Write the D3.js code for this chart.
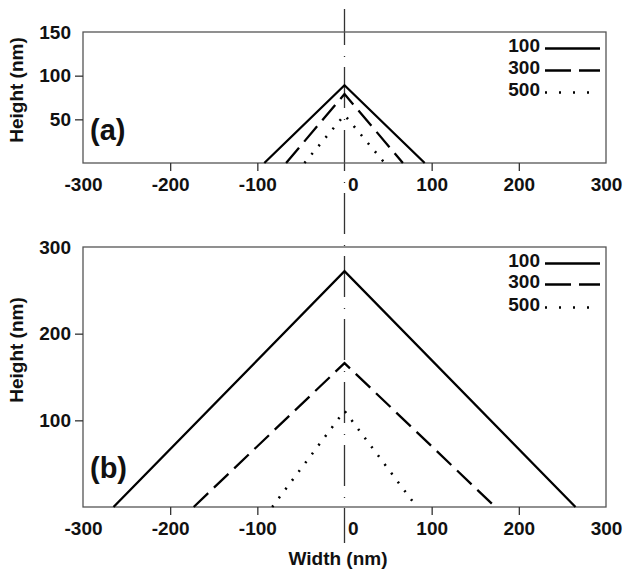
<!DOCTYPE html>
<html>
<head>
<meta charset="utf-8">
<script src="https://d3js.org/d3.v7.min.js"></script>
<style>
body { margin: 0; background: #fff; }
text { font-family: Arial, "Liberation Sans", sans-serif; font-weight: bold; fill: #111; }
</style>
</head>
<body>
<div id="fig"></div>
<script>
//
// Triangular height profiles, two panels
//

var series_names = ["100", "300", "500"];
var x_ticks = [-300, -200, -100, 0, 100, 200, 300];
var y_ticks_a = [50, 100, 150];
var y_ticks_b = [100, 200, 300];

// half base width and apex height of each profile (nm)
var half_width_a = [92, 67, 46];
var apex_height_a = [89, 79, 55];
var half_width_b = [265, 173, 83];
var apex_height_b = [272, 166, 111];

var line_dash = ["none", "20,8", "2,9"];
var legend_dash = ["none", "26,8", "2,12"];

var total_width = 623, total_height = 572;
var left = 83, right = 606;
var tick_font = 19;

var svg = d3.select("#fig").append("svg")
		.attr("width", total_width)
		.attr("height", total_height);

var x_scale = d3.scaleLinear()
	.domain([-300, 300])
	.range([left, right]);

// plain hyphen for negatives, like the original figure
var fmt = function(d) { return String(d); };

function profile(half_width, apex) {
	return [{x: -half_width, y: 0}, {x: 0, y: apex}, {x: half_width, y: 0}];
}

// dash-dot centre line through both panels
svg.append("line")
		.attr("x1", x_scale(0)).attr("x2", x_scale(0))
		.attr("y1", 9).attr("y2", 543)
		.attr("stroke", "#333")
		.attr("stroke-width", 1.3)
		.attr("stroke-dasharray", "41,11,1,10")
		.attr("stroke-dashoffset", 5);

function ProfilePanel(opts) {
	var y_scale = d3.scaleLinear()
		.domain([0, opts.y_max])
		.range([opts.bottom, opts.top]);

	var g = svg.append("g");

	// frame
	g.append("rect")
			.attr("x", left)
			.attr("y", opts.top)
			.attr("width", right - left)
			.attr("height", opts.bottom - opts.top)
			.attr("fill", "none")
			.attr("stroke", "#555")
			.attr("stroke-width", 1.3);

	// X axis
	var xa = g.append("g")
			.attr("transform", "translate(0," + opts.bottom + ")")
			.call(d3.axisBottom(x_scale).tickValues(x_ticks).tickFormat(fmt)
				.tickSize(8).tickSizeOuter(0).tickPadding(7));
	xa.select(".domain").remove();
	xa.selectAll(".tick line")
			.attr("stroke", "#333")
			.attr("stroke-width", 1.3)
			.attr("display", function(d) { return (d == 0 || Math.abs(d) == 300) ? "none" : null; });
	xa.selectAll(".tick text")
			.attr("font-size", tick_font)
			.attr("fill", "#111");
	xa.selectAll(".tick").filter(function(d) { return d == 0; }).select("text")
			.attr("text-anchor", "start")
			.attr("x", 3);

	// Y axis
	var ya = g.append("g")
			.attr("transform", "translate(" + left + ",0)")
			.call(d3.axisLeft(y_scale).tickValues(opts.y_ticks).tickFormat(fmt)
				.tickSize(8).tickSizeOuter(0).tickPadding(4));
	ya.select(".domain").remove();
	ya.selectAll(".tick line")
			.attr("stroke", "#333")
			.attr("stroke-width", 1.3)
			.attr("display", function(d) { return d == opts.y_max ? "none" : null; });
	ya.selectAll(".tick text")
			.attr("font-size", tick_font)
			.attr("fill", "#111");

	g.append("text")
			.attr("transform", "translate(23," + opts.label_y + ") rotate(-90)")
			.attr("text-anchor", "middle")
			.attr("font-size", 19)
			.text("Height (nm)");

	g.append("text")
			.attr("x", 90)
			.attr("y", opts.tag_y)
			.attr("font-size", 29)
			.text(opts.tag);

	// profiles
	for(var i = 0; i < series_names.length; i += 1) {
		g.append("path")
				.datum(profile(opts.half_width[i], opts.apex[i]))
				.attr("fill", "none")
				.attr("stroke", "#000")
				.attr("stroke-width", i == 2 ? 2.5 : 2.3)
				.attr("stroke-dasharray", line_dash[i])
				.attr("d", d3.line()
					.x(function(d) { return x_scale(d.x); })
					.y(function(d) { return y_scale(d.y); })
				);
	}

	// legend
	for(var i = 0; i < series_names.length; i += 1) {
		var ly = opts.legend_y[i];
		g.append("text")
				.attr("x", 540)
				.attr("y", ly)
				.attr("text-anchor", "end")
				.attr("font-size", tick_font)
				.text(series_names[i]);
		g.append("line")
				.attr("x1", 545).attr("x2", 600)
				.attr("y1", ly - 3.5).attr("y2", ly - 3.5)
				.attr("stroke", "#000")
				.attr("stroke-width", i == 2 ? 2.5 : 2.3)
				.attr("stroke-dasharray", legend_dash[i]);
	}
}

ProfilePanel({
	top: 32, bottom: 163, y_max: 150, y_ticks: y_ticks_a,
	half_width: half_width_a, apex: apex_height_a,
	tag: "(a)", tag_y: 140, label_y: 90,
	legend_y: [52, 74, 96]
});

ProfilePanel({
	top: 247, bottom: 507, y_max: 300, y_ticks: y_ticks_b,
	half_width: half_width_b, apex: apex_height_b,
	tag: "(b)", tag_y: 478, label_y: 350,
	legend_y: [267, 288, 311]
});

svg.append("text")
		.attr("x", 338)
		.attr("y", 565)
		.attr("text-anchor", "middle")
		.attr("font-size", 19)
		.text("Width (nm)");
</script>
</body>
</html>
